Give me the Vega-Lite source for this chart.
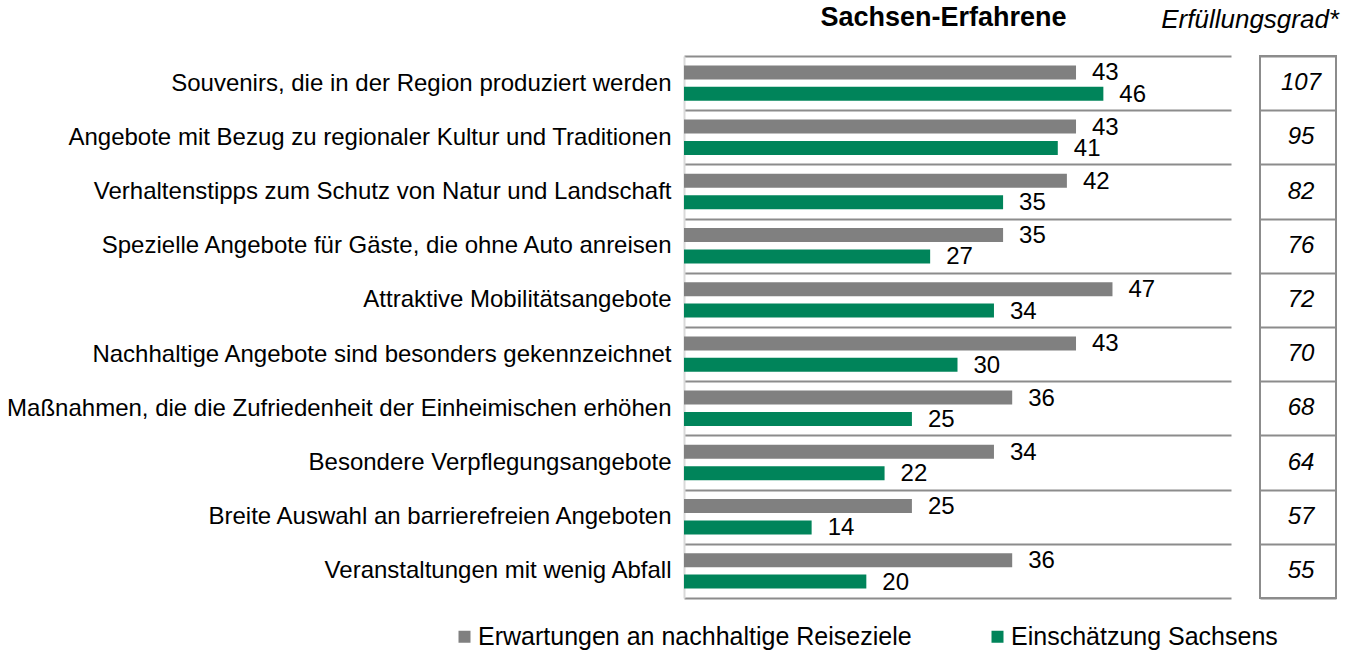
{
  "$schema": "https://vega.github.io/schema/vega-lite/v6.json",
  "padding": {"left": 6, "top": 4, "right": 6, "bottom": 4},
  "background": "white",
  "bounds": "flush",
  "spacing": 29,
  "config": {"font": "Liberation Sans", "view": {"stroke": null}},
  "datasets": {
    "bars": [
      {"cat": "Souvenirs, die in der Region produziert werden", "series": "Erwartungen an nachhaltige Reiseziele", "value": 43},
      {"cat": "Souvenirs, die in der Region produziert werden", "series": "Einschätzung Sachsens", "value": 46},
      {"cat": "Angebote mit Bezug zu regionaler Kultur und Traditionen", "series": "Erwartungen an nachhaltige Reiseziele", "value": 43},
      {"cat": "Angebote mit Bezug zu regionaler Kultur und Traditionen", "series": "Einschätzung Sachsens", "value": 41},
      {"cat": "Verhaltenstipps zum Schutz von Natur und Landschaft", "series": "Erwartungen an nachhaltige Reiseziele", "value": 42},
      {"cat": "Verhaltenstipps zum Schutz von Natur und Landschaft", "series": "Einschätzung Sachsens", "value": 35},
      {"cat": "Spezielle Angebote für Gäste, die ohne Auto anreisen", "series": "Erwartungen an nachhaltige Reiseziele", "value": 35},
      {"cat": "Spezielle Angebote für Gäste, die ohne Auto anreisen", "series": "Einschätzung Sachsens", "value": 27},
      {"cat": "Attraktive Mobilitätsangebote", "series": "Erwartungen an nachhaltige Reiseziele", "value": 47},
      {"cat": "Attraktive Mobilitätsangebote", "series": "Einschätzung Sachsens", "value": 34},
      {"cat": "Nachhaltige Angebote sind besonders gekennzeichnet", "series": "Erwartungen an nachhaltige Reiseziele", "value": 43},
      {"cat": "Nachhaltige Angebote sind besonders gekennzeichnet", "series": "Einschätzung Sachsens", "value": 30},
      {"cat": "Maßnahmen, die die Zufriedenheit der Einheimischen erhöhen", "series": "Erwartungen an nachhaltige Reiseziele", "value": 36},
      {"cat": "Maßnahmen, die die Zufriedenheit der Einheimischen erhöhen", "series": "Einschätzung Sachsens", "value": 25},
      {"cat": "Besondere Verpflegungsangebote", "series": "Erwartungen an nachhaltige Reiseziele", "value": 34},
      {"cat": "Besondere Verpflegungsangebote", "series": "Einschätzung Sachsens", "value": 22},
      {"cat": "Breite Auswahl an barrierefreien Angeboten", "series": "Erwartungen an nachhaltige Reiseziele", "value": 25},
      {"cat": "Breite Auswahl an barrierefreien Angeboten", "series": "Einschätzung Sachsens", "value": 14},
      {"cat": "Veranstaltungen mit wenig Abfall", "series": "Erwartungen an nachhaltige Reiseziele", "value": 36},
      {"cat": "Veranstaltungen mit wenig Abfall", "series": "Einschätzung Sachsens", "value": 20}
    ],
    "grad": [
      {"cat": "Souvenirs, die in der Region produziert werden", "grad": 107},
      {"cat": "Angebote mit Bezug zu regionaler Kultur und Traditionen", "grad": 95},
      {"cat": "Verhaltenstipps zum Schutz von Natur und Landschaft", "grad": 82},
      {"cat": "Spezielle Angebote für Gäste, die ohne Auto anreisen", "grad": 76},
      {"cat": "Attraktive Mobilitätsangebote", "grad": 72},
      {"cat": "Nachhaltige Angebote sind besonders gekennzeichnet", "grad": 70},
      {"cat": "Maßnahmen, die die Zufriedenheit der Einheimischen erhöhen", "grad": 68},
      {"cat": "Besondere Verpflegungsangebote", "grad": 64},
      {"cat": "Breite Auswahl an barrierefreien Angeboten", "grad": 57},
      {"cat": "Veranstaltungen mit wenig Abfall", "grad": 55}
    ]
  },
  "hconcat": [
    {
      "width": 547,
      "height": 542,
      "title": {"text": "Sachsen-Erfahrene", "fontSize": 27, "fontWeight": "bold", "anchor": "middle", "frame": "group", "dx": -14, "offset": -15, "baseline": "bottom", "color": "black"},
      "data": {"name": "bars"},
      "encoding": {
        "y": {
          "field": "cat", "type": "nominal", "sort": null,
          "scale": {"paddingInner": 0, "paddingOuter": 0},
          "axis": {"title": null, "labelFontSize": 24, "labelColor": "black", "labelPadding": 13, "labelLimit": 1000, "ticks": false, "domain": true, "domainColor": "#d9d9d9", "domainWidth": 2, "grid": true, "tickBand": "extent", "gridColor": "#8c8c8c", "gridWidth": 2}
        },
        "yOffset": {
          "field": "series", "type": "nominal",
          "sort": ["Erwartungen an nachhaltige Reiseziele", "Einschätzung Sachsens"],
          "scale": {"paddingInner": 0.346, "paddingOuter": 0.44}
        },
        "x": {"field": "value", "type": "quantitative", "stack": null, "scale": {"domain": [0, 60], "nice": false}, "axis": null}
      },
      "layer": [
        {
          "mark": {"type": "bar"},
          "encoding": {
            "color": {
              "field": "series", "type": "nominal",
              "scale": {"domain": ["Erwartungen an nachhaltige Reiseziele", "Einschätzung Sachsens"], "range": ["#808080", "#00845a"]},
              "legend": {"title": null, "orient": "none", "direction": "horizontal", "legendX": -232, "legendY": 568, "padding": 0, "symbolType": "square", "symbolSize": 144, "symbolStrokeWidth": 0, "symbolOpacity": 1, "labelFontSize": 25, "labelColor": "black", "labelOffset": 1, "labelLimit": 1000, "columnPadding": 73}
            }
          }
        },
        {
          "mark": {"type": "text", "align": "left", "dx": 16, "dy": 1, "baseline": "middle", "fontSize": 24, "color": "black"},
          "encoding": {"text": {"field": "value", "type": "quantitative"}}
        }
      ]
    },
    {
      "width": 76,
      "height": 542,
      "view": {"stroke": "#8c8c8c", "strokeWidth": 2},
      "title": {"text": "Erfüllungsgrad*", "fontSize": 26, "fontStyle": "italic", "fontWeight": "normal", "anchor": "end", "frame": "group", "dx": 3, "offset": -3, "baseline": "bottom", "color": "black"},
      "data": {"name": "grad"},
      "mark": {"type": "text", "fontSize": 24, "fontStyle": "italic", "dx": 3, "baseline": "middle", "color": "black"},
      "encoding": {
        "y": {
          "field": "cat", "type": "nominal", "sort": null,
          "scale": {"paddingInner": 0, "paddingOuter": 0},
          "axis": {"title": null, "labels": false, "ticks": false, "domain": false, "grid": true, "tickBand": "extent", "gridColor": "#8c8c8c", "gridWidth": 2}
        },
        "x": {"datum": 0.5, "type": "quantitative", "scale": {"domain": [0, 1]}, "axis": null},
        "text": {"field": "grad", "type": "quantitative"}
      }
    }
  ]
}
